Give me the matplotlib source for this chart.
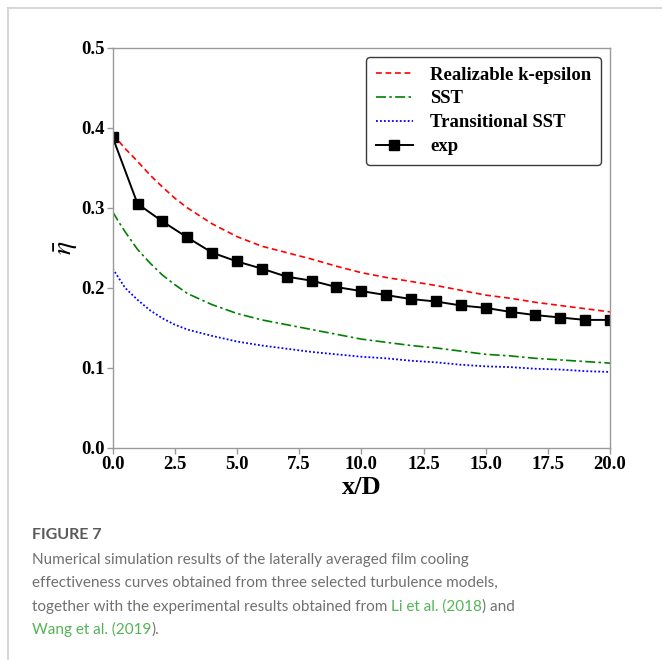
import matplotlib
matplotlib.use("Agg")
import matplotlib.pyplot as plt
from matplotlib.lines import Line2D

plt.rcParams["mathtext.fontset"] = "stix"

# ---- data -------------------------------------------------------------
x_rke = [0, 0.5, 1, 1.5, 2, 2.5, 3, 3.5, 4, 5, 6, 7, 8, 9, 10, 11, 12, 13,
         14, 15, 16, 17, 18, 19, 20]
eta_rke = [0.392, 0.374, 0.358, 0.341, 0.326, 0.312, 0.300, 0.290, 0.280,
           0.264, 0.252, 0.244, 0.236, 0.227, 0.219, 0.213, 0.208, 0.203,
           0.197, 0.191, 0.187, 0.182, 0.178, 0.174, 0.170]

x_sst = [0, 0.25, 0.5, 1, 1.5, 2, 2.5, 3, 4, 5, 6, 7, 8, 9, 10, 11, 12, 13,
         14, 15, 16, 17, 18, 19, 20]
eta_sst = [0.295, 0.282, 0.270, 0.248, 0.231, 0.216, 0.204, 0.193, 0.179,
           0.168, 0.160, 0.154, 0.148, 0.142, 0.136, 0.132, 0.128, 0.125,
           0.121, 0.117, 0.115, 0.112, 0.110, 0.108, 0.106]

x_tsst = [0, 0.25, 0.5, 1, 1.5, 2, 2.5, 3, 4, 5, 6, 7, 8, 9, 10, 11, 12, 13,
          14, 15, 16, 17, 18, 19, 20]
eta_tsst = [0.224, 0.212, 0.200, 0.185, 0.172, 0.162, 0.154, 0.148, 0.140,
            0.133, 0.128, 0.124, 0.120, 0.117, 0.114, 0.112, 0.109, 0.107,
            0.104, 0.102, 0.101, 0.099, 0.098, 0.096, 0.095]

x_exp = list(range(0, 21))
eta_exp = [0.388, 0.305, 0.283, 0.263, 0.244, 0.233, 0.224, 0.214, 0.209,
           0.201, 0.196, 0.191, 0.186, 0.183, 0.178, 0.175, 0.170, 0.166,
           0.163, 0.160, 0.160]

labels = ["Realizable k-epsilon", "SST", "Transitional SST", "exp"]
x_ticks = [0.0, 2.5, 5.0, 7.5, 10.0, 12.5, 15.0, 17.5, 20.0]
y_ticks = [0.0, 0.1, 0.2, 0.3, 0.4, 0.5]

caption_title = "FIGURE 7"
caption_lines = [
    "Numerical simulation results of the laterally averaged film cooling",
    "effectiveness curves obtained from three selected turbulence models,",
]

# ---- figure -------------------------------------------------------------
W, H = 662, 660
fig = plt.figure(figsize=(W / 100, H / 100), dpi=100)
fig.patch.set_facecolor("white")

serif = ["Liberation Serif", "DejaVu Serif"]
ax = fig.add_axes([112.7 / W, 1 - 448 / H, (610 - 112.7) / W, (448 - 47.7) / H])

ax.plot(x_rke, eta_rke, color="red", ls=(0, (3.5, 2.2)), lw=1.2, label=labels[0])
ax.plot(x_sst, eta_sst, color="green", ls=(0, (6, 2, 1.5, 2)), lw=1.2, label=labels[1])
ax.plot(x_tsst, eta_tsst, color="blue", ls=(0, (1, 1.2)), lw=1.3, label=labels[2])
ax.plot(x_exp, eta_exp, color="black", lw=1.4, marker="s", ms=6.5,
        label=labels[3])

ax.set_xlim(0, 20)
ax.set_ylim(0, 0.5)
ax.set_xticks(x_ticks)
ax.set_yticks(y_ticks)
ax.set_xticklabels([f"{v:.1f}" for v in x_ticks])
ax.set_yticklabels([f"{v:.1f}" for v in y_ticks])
for lab in ax.get_xticklabels() + ax.get_yticklabels():
    lab.set_family(serif)
    lab.set_weight("bold")
    lab.set_fontsize(13.5)
    lab.set_color("black")

for s in ax.spines.values():
    s.set_color("#9a9a9a")
    s.set_linewidth(1.0)
ax.tick_params(direction="out", length=4, width=1.0, color="#9a9a9a", pad=2)

ax.set_xlabel("x/D", family=serif, weight="bold", fontsize=19, labelpad=2)
ax.set_ylabel(r"$\bar{\eta}$", fontsize=20)
ax.yaxis.set_label_coords(-0.066, 0.5)

leg = ax.legend(loc="upper right", prop={"family": serif, "weight": "bold", "size": 13.5},
                handlelength=2.0, handletextpad=0.9, labelspacing=0.36,
                borderaxespad=0.5, borderpad=0.5, fancybox=True, framealpha=1)
leg.get_frame().set_edgecolor("#3a3a3a")
leg.get_frame().set_linewidth(1.0)

# ---- page frame -----------------------------------------------------------
fig.add_artist(Line2D([8 / W, 1], [1 - 8 / H, 1 - 8 / H], color="#cfcfcf", lw=1.2))
fig.add_artist(Line2D([8 / W, 8 / W], [0, 1 - 8 / H], color="#cfcfcf", lw=1.2))

# ---- caption ----------------------------------------------------------------
cap_font = ["Lato", "DejaVu Sans"]
cap_size = 11.0
gray = "#707070"
link = "#52b455"
cx = 32 / W
fig.text(cx, 1 - 539 / H, caption_title, family=cap_font, weight="bold",
         fontsize=11.5, color="#5a5a5a", va="baseline")
base_y = [564, 587, 611, 634]
for line, yb in zip(caption_lines, base_y[:2]):
    fig.text(cx, 1 - yb / H, line, family=cap_font, fontsize=cap_size, color=gray,
             va="baseline")

renderer = fig.canvas.get_renderer()


def width_of(s):
    t = fig.text(0, 0, s, family=cap_font, fontsize=cap_size)
    w = t.get_window_extent(renderer).width
    t.remove()
    return w


def draw_segments(segments, yb):
    full = ""
    for text, col in segments:
        # offset of a segment = width of the text up to and including it,
        # minus the segment's own width (keeps the spaces in between)
        probe = full + text
        xoff = width_of(probe) - width_of(text)
        fig.text(cx + xoff / W, 1 - yb / H, text, family=cap_font, fontsize=cap_size,
                 color=col, va="baseline")
        full = probe


draw_segments([
    ("together with the experimental results obtained from ", gray),
    ("Li et al. (2018", link),
    (") and", gray),
], base_y[2])
draw_segments([
    ("Wang et al. (2019", link),
    (").", gray),
], base_y[3])

fig.savefig("out.png", dpi=100)
